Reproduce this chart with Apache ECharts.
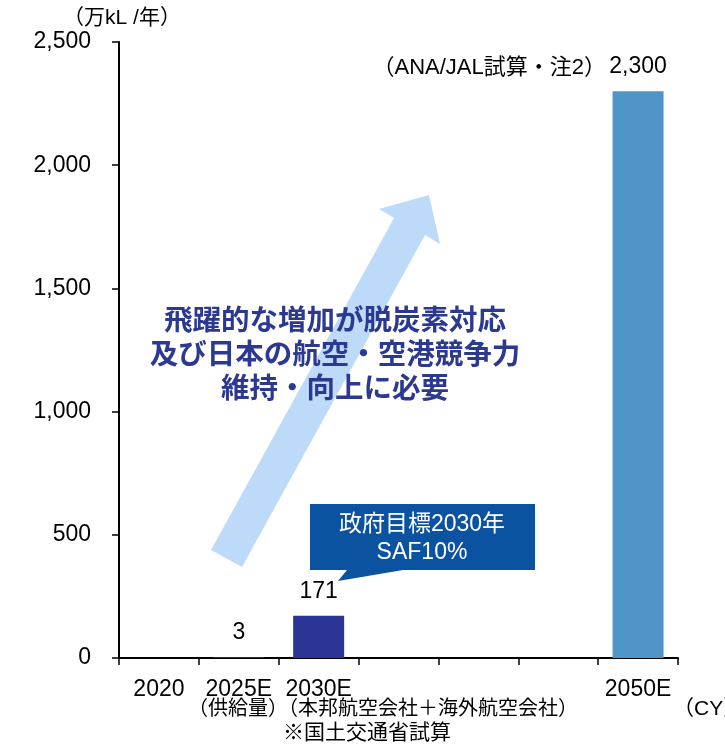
<!DOCTYPE html>
<html>
<head>
<meta charset="utf-8">
<script src="https://cdn.jsdelivr.net/npm/echarts@6/dist/echarts.min.js"></script>
<style>
  html, body { margin: 0; padding: 0; background: #fff; }
  #chart { width: 725px; height: 746px; }
</style>
</head>
<body>
<div id="chart"></div>
<script>
const FONT = '"Liberation Sans", "Noto Sans CJK JP", sans-serif'

// データ
const categories = ['2020', '2025E', '2030E', '', '', '', '2050E']
const supplyValues = ['-', 3, 171, '-', '-', '-', 2300]
const barColors = ['#2b3595', '#2b3595', '#2b3595', '#2b3595', '#2b3595', '#2b3595', '#4f95c8']
const yTicks = [0, 500, 1000, 1500, 2000, 2500]
const messageLines = ['飛躍的な増加が脱炭素対応', '及び日本の航空・空港競争力', '維持・向上に必要']
const calloutLines = ['政府目標2030年', 'SAF10%']

const chart = echarts.init(document.getElementById('chart'))

const fmt = v => Number(v).toLocaleString('en-US')

chart.setOption({
  animation: false,
  backgroundColor: '#fff',
  textStyle: { fontFamily: FONT },
  grid: { left: 119, right: 47, top: 42, bottom: 88 },
  xAxis: {
    type: 'category',
    data: categories,
    axisLine: { lineStyle: { color: '#000', width: 2 } },
    axisTick: { show: true, length: 7, interval: 0, lineStyle: { color: '#000', width: 1.5 } },
    axisLabel: { interval: 0, color: '#000', fontSize: 23, margin: 20, fontFamily: FONT }
  },
  yAxis: {
    type: 'value',
    min: yTicks[0],
    max: yTicks[yTicks.length - 1],
    interval: 500,
    splitLine: { show: false },
    axisLine: { show: true, lineStyle: { color: '#000', width: 2 } },
    axisTick: { show: true, length: 7, lineStyle: { color: '#000', width: 1.5 } },
    axisLabel: { color: '#000', fontSize: 23, margin: 28, fontFamily: FONT, formatter: fmt }
  },
  series: [{
    type: 'bar',
    barWidth: 51,
    data: supplyValues.map((v, i) => ({ value: v, itemStyle: { color: barColors[i] } })),
    label: {
      show: true,
      position: 'top',
      distance: 13,
      color: '#000',
      fontSize: 23,
      fontFamily: FONT,
      formatter: p => fmt(p.value)
    }
  }],
  graphic: [
    // 上昇矢印
    {
      type: 'polygon',
      z: 1,
      shape: {
        points: [[211, 550], [242, 567], [425, 235], [440, 244], [429, 195], [379, 209], [394, 218]]
      },
      style: { fill: '#bddbf8' }
    },
    {
      type: 'text',
      z: 5,
      style: {
        x: 335, y: 353,
        text: messageLines.join('\n'),
        align: 'center',
        verticalAlign: 'middle',
        lineHeight: 34,
        font: 'bold 28.5px "Noto Sans CJK JP", sans-serif',
        fill: '#2b3990'
      }
    },
    // 吹き出し
    {
      type: 'polygon',
      z: 5,
      shape: {
        points: [[310, 504], [535, 504], [535, 570], [403, 570], [338, 581], [347, 570], [310, 570]]
      },
      style: { fill: '#0b52a0' }
    },
    {
      type: 'text',
      z: 6,
      style: {
        x: 422, y: 539,
        text: calloutLines.join('\n'),
        align: 'center',
        verticalAlign: 'middle',
        lineHeight: 28,
        font: '23px "Liberation Sans", "Noto Sans CJK JP", sans-serif',
        fill: '#fff'
      }
    },
    // 単位
    {
      type: 'text',
      style: {
        x: 122, y: 18, text: '（万kL /年）', align: 'center', verticalAlign: 'middle',
        font: '21px "Liberation Sans", "Noto Sans CJK JP", sans-serif', fill: '#000'
      }
    },
    {
      type: 'text',
      style: {
        x: 606, y: 68, text: '（ANA/JAL試算・注2）', align: 'right', verticalAlign: 'middle',
        font: '22px "Liberation Sans", "Noto Sans CJK JP", sans-serif', fill: '#000'
      }
    },
    {
      type: 'text',
      style: {
        x: 383, y: 709, text: '（供給量）（本邦航空会社＋海外航空会社）', align: 'center', verticalAlign: 'middle',
        font: '20px "Liberation Sans", "Noto Sans CJK JP", sans-serif', fill: '#000'
      }
    },
    {
      type: 'text',
      style: {
        x: 367, y: 733, text: '※国土交通省試算', align: 'center', verticalAlign: 'middle',
        font: '21px "Liberation Sans", "Noto Sans CJK JP", sans-serif', fill: '#000'
      }
    },
    {
      type: 'text',
      style: {
        x: 673, y: 709, text: '（CY）', align: 'left', verticalAlign: 'middle',
        font: '21px "Liberation Sans", "Noto Sans CJK JP", sans-serif', fill: '#000'
      }
    }
  ]
})
</script>
</body>
</html>
